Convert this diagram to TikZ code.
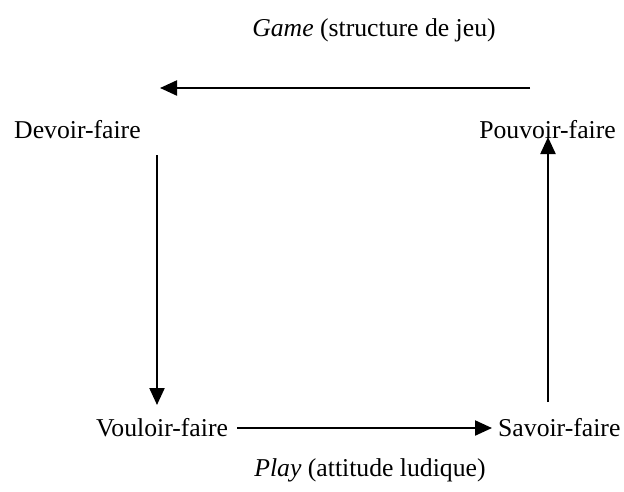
\documentclass[tikz,border=0pt]{standalone}
\usepackage{fontspec}
\setmainfont{Liberation Serif}
\usetikzlibrary{arrows.meta}
\begin{document}
\begin{tikzpicture}[x=1pt,y=-1pt,
  lbl/.style={font=\fontsize{25.7}{30}\selectfont, inner sep=0pt},
  arr/.style={line width=2.2pt, -{Triangle[length=17pt,width=15pt]}}]
\useasboundingbox (0,0) rectangle (624,491);
\fill[white] (0,0) rectangle (624,491);
\node[lbl] (game) at (374,30) {\textit{Game} (structure de jeu)};
\node[lbl, anchor=west] (devoir) at (14,130) {Devoir-faire};
\node[lbl, anchor=east] (pouvoir) at (616,130) {Pouvoir-faire};
\node[lbl, anchor=west] (vouloir) at (96,428) {Vouloir-faire};
\node[lbl, anchor=west] (savoir) at (498,428) {Savoir-faire};
\node[lbl] (play) at (370,470) {\textit{Play} (attitude ludique)};
\coordinate (tA) at (530,88);
\coordinate (tB) at (160,88);
\coordinate (lA) at (157,155);
\coordinate (lB) at (157,405);
\coordinate (rA) at (548,402);
\coordinate (rB) at (548,137);
\draw[arr] (tA) -- (tB);
\draw[arr] (lA) -- (lB);
\draw[arr] (vouloir.east) ++(9,0) coordinate (bA) -- (savoir.west -| 492,0) coordinate (bB);
\draw[arr] (rA) -- (rB);
\end{tikzpicture}
\end{document}
